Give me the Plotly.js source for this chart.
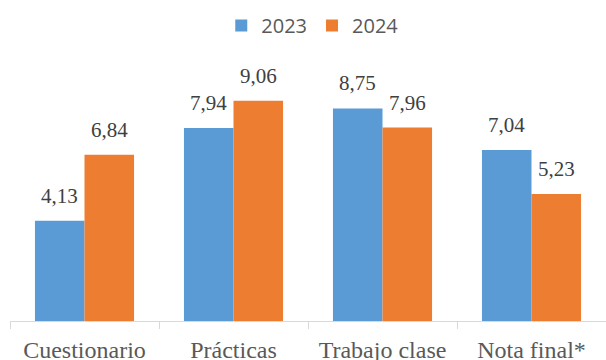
<!DOCTYPE html>
<html>
<head>
<meta charset="utf-8">
<script src="https://cdn.plot.ly/plotly-3.0.1.min.js"></script>
<style>
  html, body { margin: 0; padding: 0; background: #fff; }
  #chart { width: 606px; height: 360px; }
</style>
</head>
<body>
<div id="chart"></div>
<script>
const categories = ["Cuestionario", "Prácticas", "Trabajo clase", "Nota final*"];
const seriesNames = ["2023", "2024"];
const values2023 = [4.13, 7.94, 8.75, 7.04];
const values2024 = [6.84, 9.06, 7.96, 5.23];

const colors = ["#5B9BD5", "#ED7D31"];
const allValues = [values2023, values2024];
const serifFont = "'Liberation Serif', 'Times New Roman', Times, serif";

const fmt = v => v.toFixed(2).replace(".", ",");

const traces = allValues.map((vals, i) => ({
  type: "bar",
  name: seriesNames[i],
  x: categories,
  y: vals,
  marker: { color: colors[i] },
  hoverinfo: "x+y"
}));

const barShift = 25; // px, half a bar width
const annotations = [];
allValues.forEach((vals, i) => {
  vals.forEach((v, j) => {
    annotations.push({
      x: categories[j],
      y: v,
      xref: "x",
      yref: "y",
      text: fmt(v),
      showarrow: false,
      xanchor: "center",
      yanchor: "bottom",
      xshift: i === 0 ? -barShift : barShift,
      yshift: 11,
      font: { family: serifFont, size: 21, color: "#404040" }
    });
  });
});

const layout = {
  width: 606,
  height: 360,
  margin: { l: 10, r: 0, t: 78, b: 39, pad: 0 },
  paper_bgcolor: "#ffffff",
  plot_bgcolor: "#ffffff",
  barmode: "group",
  bargap: 0.335,
  bargroupgap: 0,
  showlegend: true,
  legend: {
    orientation: "h",
    x: 0.508,
    xanchor: "center",
    y: 1.216,
    yanchor: "middle",
    font: { family: "'Open Sans', sans-serif", size: 20, color: "#595959" },
    bgcolor: "rgba(0,0,0,0)"
  },
  xaxis: {
    type: "category",
    range: [-0.5, 3.5],
    showgrid: false,
    zeroline: false,
    showline: true,
    linecolor: "#D9D9D9",
    linewidth: 1,
    ticks: "outside",
    tickson: "boundaries",
    ticklen: 7,
    tickcolor: "#D9D9D9",
    tickwidth: 1,
    ticklabelstandoff: 7,
    tickfont: { family: serifFont, size: 24, color: "#595959" },
    fixedrange: true
  },
  yaxis: {
    range: [0, 10],
    visible: false,
    showgrid: false,
    zeroline: false,
    fixedrange: true
  },
  annotations: annotations
};

Plotly.newPlot("chart", traces, layout, { displayModeBar: false, staticPlot: true });
</script>
</body>
</html>
